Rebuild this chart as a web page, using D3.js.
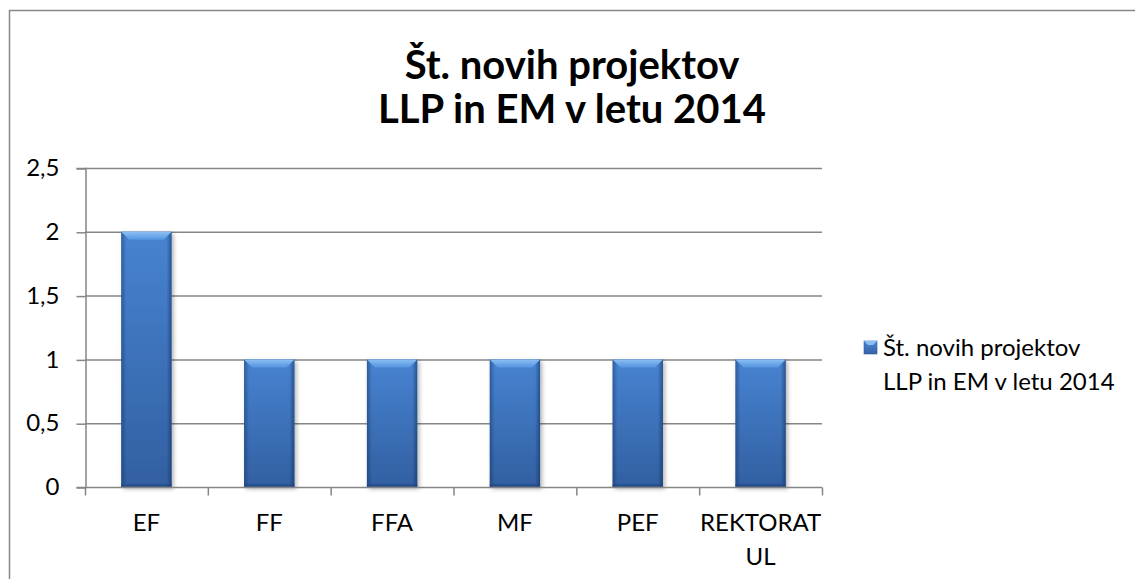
<!DOCTYPE html>
<html>
<head>
<meta charset="utf-8">
<script src="https://cdn.jsdelivr.net/npm/d3@7"></script>
<style>
  body { margin: 0; background: #fff; }
  svg { display: block; font-family: Lato, "Open Sans", sans-serif; }
</style>
</head>
<body>
<script>
// data
const categories = ["EF", "FF", "FFA", "MF", "PEF", "REKTORAT UL"];
const values = [2, 1, 1, 1, 1, 1];
const yTicks = [0, 0.5, 1, 1.5, 2, 2.5];
const titleLines = ["Št. novih projektov", "LLP in EM v letu 2014"];
const legendLines = ["Št. novih projektov", "LLP in EM v letu 2014"];

const width = 1135, height = 579;
const margin = {left: 85, right: 822, top: 168, bottom: 487};

const svg = d3.select("body").append("svg")
    .attr("width", width)
    .attr("height", height);

const defs = svg.append("defs");
// body: lighter at top, darker at bottom
const vg = defs.append("linearGradient").attr("id", "barBody")
    .attr("x1", "0%").attr("x2", "0%").attr("y1", "0%").attr("y2", "100%");
vg.append("stop").attr("offset", "0%").attr("stop-color", "#4a88d8");
vg.append("stop").attr("offset", "100%").attr("stop-color", "#3462a5");
// side shading
const hg = defs.append("linearGradient").attr("id", "barSides")
    .attr("x1", "0%").attr("x2", "100%").attr("y1", "0%").attr("y2", "0%");
hg.append("stop").attr("offset", "0%").attr("stop-color", "#0d2a55").attr("stop-opacity", 0.45);
hg.append("stop").attr("offset", "10%").attr("stop-color", "#0d2a55").attr("stop-opacity", 0.05);
hg.append("stop").attr("offset", "90%").attr("stop-color", "#0d2a55").attr("stop-opacity", 0.05);
hg.append("stop").attr("offset", "100%").attr("stop-color", "#0d2a55").attr("stop-opacity", 0.55);
// top bevel
const bg = defs.append("linearGradient").attr("id", "bevel")
    .attr("x1", "0%").attr("x2", "0%").attr("y1", "0%").attr("y2", "100%");
bg.append("stop").attr("offset", "0%").attr("stop-color", "#8cc0f5");
bg.append("stop").attr("offset", "100%").attr("stop-color", "#5594e0");

const filt = defs.append("filter").attr("id", "shadow").attr("x", "-20%").attr("y", "-5%").attr("width", "140%").attr("height", "115%");
filt.append("feDropShadow").attr("dx", 2).attr("dy", 2).attr("stdDeviation", 2)
    .attr("flood-color", "#000").attr("flood-opacity", 0.3);

// outer chart border
svg.append("rect")
    .attr("x", 9.5).attr("y", 10.5)
    .attr("width", 1140).attr("height", 600)
    .attr("fill", "none").attr("stroke", "#868686").attr("stroke-width", 1.5);

// title
svg.append("text")
    .attr("text-anchor", "middle")
    .style("font-size", "40px").style("font-weight", "bold").style("fill", "#000")
    .selectAll("tspan").data(titleLines).enter().append("tspan")
    .attr("x", 572).attr("y", (d, i) => 79 + i * 44)
    .text(d => d);

const x = d3.scaleBand().domain(categories).range([margin.left, margin.right]).paddingInner(0.59).paddingOuter(0.295);
const xb = d3.scaleBand().domain(categories).range([margin.left, margin.right]);
const y = d3.scaleLinear().domain([0, 2.5]).range([margin.bottom, margin.top]);

// gridlines
svg.append("g").selectAll("line").data(yTicks.filter(d => d > 0)).enter().append("line")
    .attr("x1", margin.left).attr("x2", margin.right)
    .attr("y1", d => y(d) + 0.5).attr("y2", d => y(d) + 0.5)
    .attr("stroke", "#868686").attr("stroke-width", 1.5);

// y axis
const yAxis = svg.append("g")
    .attr("transform", `translate(${margin.left + 0.5},0)`)
    .call(d3.axisLeft(y).tickValues(yTicks).tickSize(9).tickPadding(17)
        .tickFormat(d => String(d).replace(".", ",")));
yAxis.select(".domain").attr("stroke", "#868686").attr("stroke-width", 1.5);
yAxis.selectAll(".tick line").attr("stroke", "#868686").attr("stroke-width", 1.5)
    .attr("transform", "translate(0,0.5)");
yAxis.selectAll(".tick text").style("font-size", "24px").style("fill", "#000")
    .style("font-family", "Lato, sans-serif");

// bars
const bars = svg.append("g").selectAll("g.bar").data(categories).enter().append("g").attr("class", "bar");
bars.append("rect")
    .attr("x", d => x(d)).attr("y", (d, i) => y(values[i]))
    .attr("width", x.bandwidth()).attr("height", (d, i) => y(0) - y(values[i]))
    .attr("fill", "url(#barBody)")
    .attr("filter", "url(#shadow)");
bars.append("rect")
    .attr("x", d => x(d)).attr("y", (d, i) => y(values[i]))
    .attr("width", x.bandwidth()).attr("height", (d, i) => y(0) - y(values[i]))
    .attr("fill", "url(#barSides)");
// top bevel
bars.append("path")
    .attr("d", (d, i) => {
        const x0 = x(d), x1 = x(d) + x.bandwidth(), t = y(values[i]), b = 8;
        return `M${x0},${t}L${x1},${t}L${x1 - b},${t + b}L${x0 + b},${t + b}Z`;
    })
    .attr("fill", "url(#bevel)");
// dark bottom edge
bars.append("rect")
    .attr("x", d => x(d)).attr("y", y(0) - 3)
    .attr("width", x.bandwidth()).attr("height", 3)
    .attr("fill", "#1f4680").attr("opacity", 0.6);

// x axis
const xAxis = svg.append("g")
    .attr("transform", `translate(0,${margin.bottom + 0.5})`);
xAxis.append("line")
    .attr("x1", margin.left).attr("x2", margin.right)
    .attr("stroke", "#868686").attr("stroke-width", 1.5);
xAxis.selectAll("line.tk").data(categories.concat(["end"])).enter().append("line")
    .attr("class", "tk")
    .attr("x1", (d, i) => margin.left + i * xb.step() + 0.5)
    .attr("x2", (d, i) => margin.left + i * xb.step() + 0.5)
    .attr("y1", 0).attr("y2", 8)
    .attr("stroke", "#868686").attr("stroke-width", 1.5);

const labels = svg.append("g").selectAll("text").data(categories).enter().append("text")
    .attr("text-anchor", "middle")
    .style("font-size", "24px").style("fill", "#000");
labels.each(function(d) {
    const parts = d === "REKTORAT UL" ? ["REKTORAT", "UL"] : [d];
    const cx = xb(d) + xb.bandwidth() / 2;
    d3.select(this).selectAll("tspan").data(parts).enter().append("tspan")
        .attr("x", cx).attr("y", (p, i) => 531 + i * 34)
        .text(p => p);
});

// legend
const legend = svg.append("g");
legend.append("rect")
    .attr("x", 864).attr("y", 341).attr("width", 13).attr("height", 13)
    .attr("fill", "url(#barBody)").attr("stroke", "#2d5d9c").attr("stroke-width", 0.6);
legend.append("path")
    .attr("d", "M864,341L877,341L873,345L868,345Z").attr("fill", "#8cc0f5");
legend.append("text")
    .style("font-size", "24px").style("fill", "#000")
    .selectAll("tspan").data(legendLines).enter().append("tspan")
    .attr("x", 883).attr("y", (d, i) => 356 + i * 34)
    .text(d => d);
</script>
</body>
</html>
